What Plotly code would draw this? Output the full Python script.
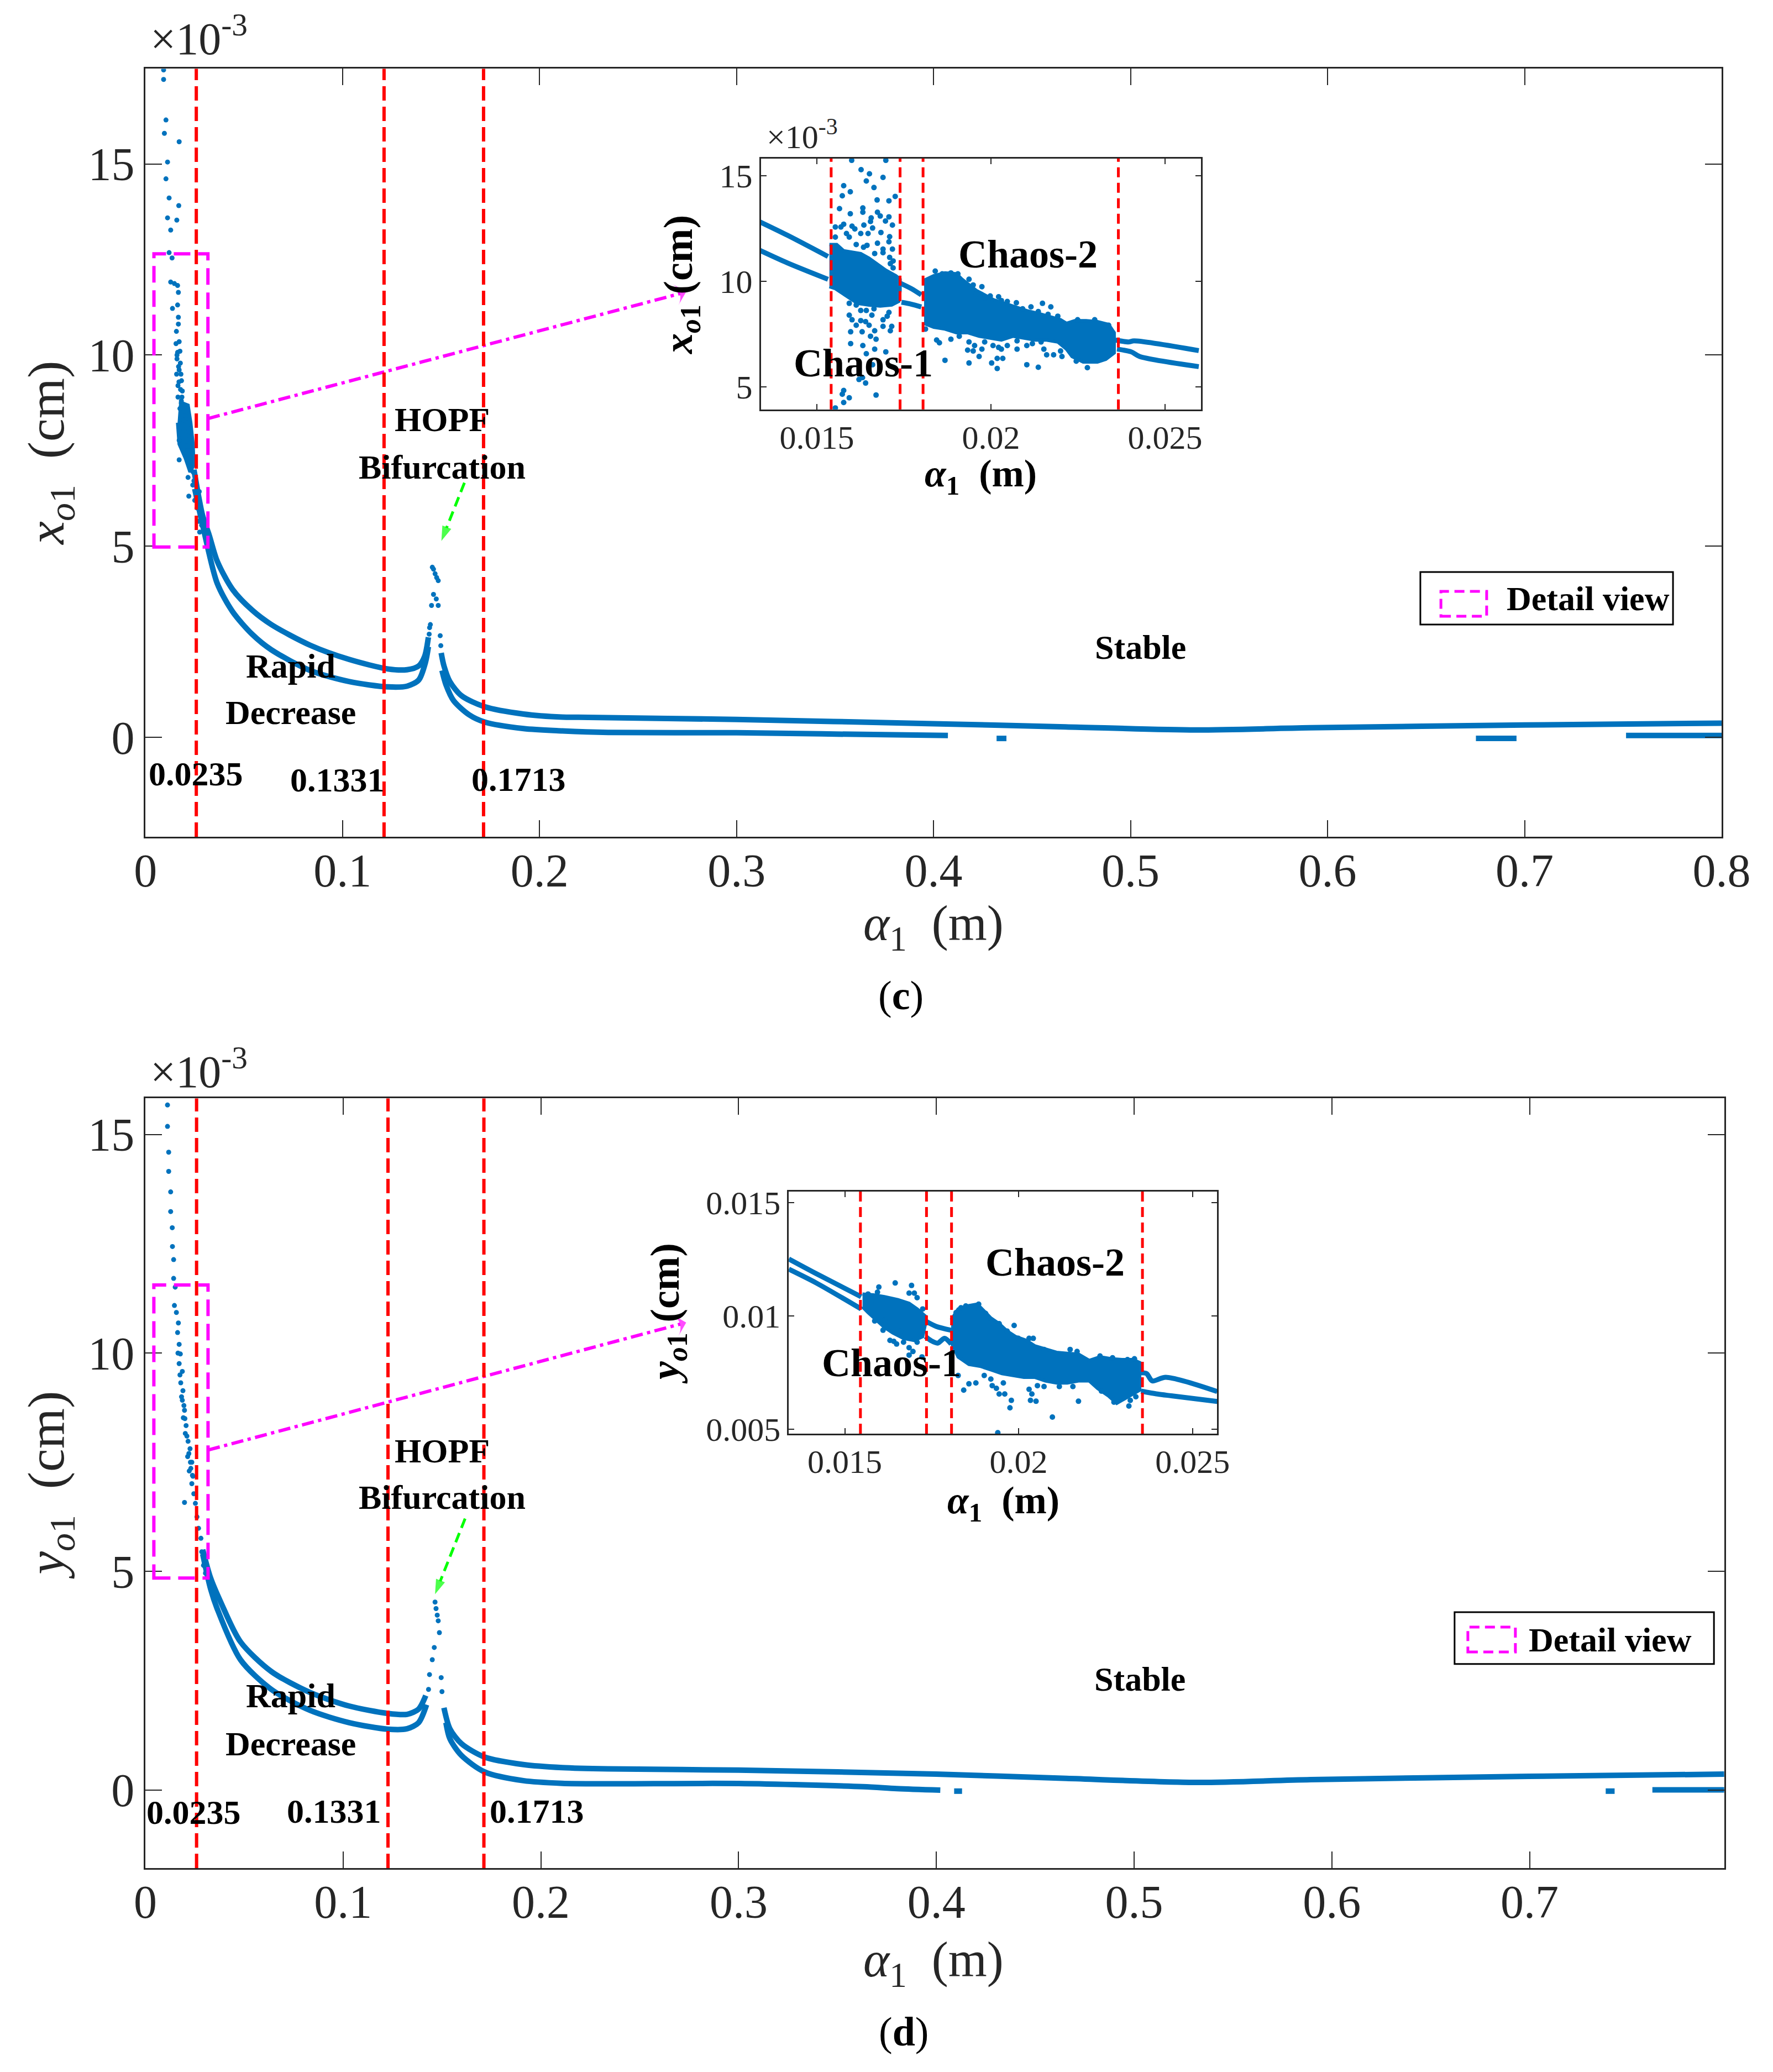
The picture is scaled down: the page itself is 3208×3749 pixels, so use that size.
import plotly.graph_objects as go

BLUE = "#0072BD"
FONT = "Liberation Serif"
AXC = "#262626"
# the page body adds an 8 px margin, so paper positions are nudged back by that much
DX = -8 / 3208
DY = 8 / 3749

# ---------------- panel (c): x_o1 (values in 1e-3 cm) ----------------
c_up_x = [0.0246, 0.0270, 0.0290, 0.0324, 0.0364, 0.0442, 0.0541, 0.0639, 0.0836, 0.1033, 0.1230, 0.1328, 0.1387, 0.1417, 0.1436]
c_up_y = [7.0, 6.3, 5.8, 5.28, 4.61, 3.87, 3.33, 2.95, 2.41, 2.04, 1.79, 1.77, 1.87, 2.12, 2.62]
c_lo_x = [0.0250, 0.0275, 0.0295, 0.0364, 0.0442, 0.0541, 0.0639, 0.0836, 0.1033, 0.1230, 0.1328, 0.1387, 0.1421, 0.1436]
c_lo_y = [6.5, 5.9, 5.44, 4.03, 3.29, 2.70, 2.29, 1.75, 1.46, 1.32, 1.34, 1.50, 1.96, 2.37]
c_peak_x = [0.1456, 0.1462, 0.1470, 0.1478, 0.1486, 0.1452, 0.1462, 0.1476, 0.1486, 0.1446, 0.1442, 0.1496, 0.1440, 0.1499]
c_peak_y = [4.45, 4.40, 4.28, 4.18, 4.10, 3.45, 3.74, 3.62, 3.45, 2.95, 2.87, 2.66, 2.70, 2.40]
c_post_up_x = [0.1501, 0.1515, 0.1545, 0.1604, 0.1722, 0.1919, 0.2116, 0.2198, 0.3, 0.4, 0.467, 0.533, 0.591, 0.7, 0.8]
c_post_up_y = [2.21, 1.87, 1.46, 1.09, 0.80, 0.61, 0.53, 0.525, 0.468, 0.357, 0.275, 0.193, 0.25, 0.323, 0.371]
c_post_lo_x = [0.1505, 0.1525, 0.1564, 0.1643, 0.1722, 0.1919, 0.2116, 0.2348, 0.3, 0.343, 0.4073]
c_post_lo_y = [1.75, 1.38, 0.96, 0.59, 0.40, 0.23, 0.17, 0.13, 0.12, 0.091, 0.048]
c_seg_x = [0.432, 0.437, None, 0.6753, 0.6959, None, 0.7515, 0.8]
c_seg_y = [-0.028, -0.028, None, -0.028, -0.028, None, 0.048, 0.048]
c_chaos_x = [0.0092, 0.0092, 0.0104, 0.0096, 0.0171, 0.0112, 0.0104, 0.0120, 0.0169, 0.0112, 0.0159, 0.0128,
             0.0120, 0.0135, 0.0128, 0.0147, 0.0163, 0.0167, 0.0137, 0.0163, 0.0167, 0.0167, 0.0157, 0.0171,
             0.0163, 0.0177, 0.0171, 0.0183, 0.0187, 0.0191, 0.0202, 0.0216, 0.0196, 0.0226, 0.0171, 0.0206,
             0.0222, 0.0236, 0.0171, 0.0226, 0.0242, 0.0216, 0.0246, 0.0220, 0.0273, 0.0269, 0.0275, 0.0285,
             0.0155, 0.0175, 0.0160, 0.0180, 0.0165, 0.0185, 0.0175, 0.0195, 0.0205, 0.0215, 0.0230, 0.0240,
             0.0250, 0.0262, 0.0160, 0.0168, 0.0158, 0.0170, 0.0178, 0.0165, 0.0182]
c_chaos_y = [17.46, 17.21, 16.15, 15.80, 15.58, 15.05, 14.61, 14.11, 13.91, 13.59, 13.53, 13.27,
             12.68, 12.54, 11.91, 11.87, 11.82, 11.64, 11.22, 11.31, 10.99, 10.81, 10.62, 10.35,
             10.07, 9.79, 9.61, 9.33, 9.06, 8.69, 8.41, 8.23, 8.04, 7.86, 7.77, 7.63,
             7.49, 7.30, 7.26, 7.12, 6.94, 6.80, 6.71, 6.31, 6.43, 5.65, 5.37, 5.55,
             10.3, 10.1, 9.9, 9.5, 9.2, 8.9, 8.6, 8.3, 7.9, 7.5, 7.0, 6.6,
             6.2, 6.0, 10.0, 9.7, 9.5, 9.3, 9.1, 8.9, 8.8]
c_core_x = [0.01709, 0.02162, 0.02299, 0.02417, 0.02456, 0.02260, 0.02024, 0.01709, 0.01630]
c_core_y = [8.78, 8.69, 8.23, 7.67, 7.12, 6.94, 7.30, 7.67, 8.23]
c_red_x = [0.0258, 0.1211, 0.1716]

# inset (c)
ic_up_x = [0.01334, 0.01415, 0.01532]
ic_up_y = [12.84, 12.19, 11.18]
ic_lo_x = [0.01334, 0.01415, 0.01532]
ic_lo_y = [11.49, 10.88, 10.10]
ic_mid_up_x = [0.01739, 0.01771, 0.01800]
ic_mid_up_y = [9.92, 9.66, 9.36]
ic_mid_lo_x = [0.01743, 0.01771, 0.01800]
ic_mid_lo_y = [9.01, 8.92, 8.79]
ic_post_up_x = [0.02358, 0.02395, 0.02411, 0.02597]
ic_post_up_y = [7.22, 7.13, 7.18, 6.72]
ic_post_lo_x = [0.02362, 0.02403, 0.02427, 0.02597]
ic_post_lo_y = [6.79, 6.66, 6.44, 5.96]
ic_core1_x = [0.01536, 0.01557, 0.01577, 0.01601, 0.01626, 0.01650, 0.01674, 0.01698, 0.01727, 0.01739,
              0.01739, 0.01735, 0.01715, 0.01682, 0.01650, 0.01617, 0.01593, 0.01577, 0.01553, 0.01536]
ic_core1_y = [11.75, 11.75, 11.45, 11.40, 11.32, 11.10, 10.79, 10.53, 10.27, 10.10,
              9.57, 9.05, 8.88, 8.83, 8.88, 8.96, 9.22, 9.40, 9.66, 9.75]
ic_core2_x = [0.01808, 0.01836, 0.01868, 0.01901, 0.01917, 0.01937, 0.01958, 0.01982, 0.02006, 0.02039, 0.02071,
              0.02103, 0.02136, 0.02168, 0.02200, 0.02217, 0.02241, 0.02273, 0.02306, 0.02338, 0.02354,
              0.02354, 0.02330, 0.02306, 0.02265, 0.02233, 0.02217, 0.02192, 0.02160, 0.02128, 0.02095,
              0.02063, 0.02030, 0.01998, 0.01966, 0.01933, 0.01901, 0.01868, 0.01836, 0.01808]
ic_core2_y = [10.05, 10.27, 10.40, 10.36, 10.10, 9.83, 9.57, 9.36, 9.14, 8.96, 8.79,
              8.61, 8.48, 8.35, 8.18, 8.01, 8.14, 8.14, 8.09, 7.96, 7.57,
              6.61, 6.31, 6.18, 6.18, 6.44, 6.79, 7.13, 7.22, 7.22, 7.31,
              7.40, 7.22, 7.31, 7.40, 7.57, 7.57, 7.74, 7.83, 8.01]
ic_dots_x = [0.01600, 0.01698, 0.01627, 0.01651, 0.01690, 0.01642, 0.01664, 0.01577, 0.01596, 0.01573, 0.01673,
             0.01707, 0.01725, 0.01565, 0.01632, 0.01632, 0.01596, 0.01674, 0.01682, 0.01707, 0.01697, 0.01717,
             0.01656, 0.01654, 0.01577, 0.01553, 0.01569, 0.01601, 0.01635, 0.01609, 0.01626, 0.01647, 0.01660,
             0.01684, 0.01585, 0.01593, 0.01709, 0.01553, 0.01707, 0.01674, 0.01644, 0.01613, 0.01634, 0.01690,
             0.01717, 0.01666, 0.01709, 0.01690, 0.01719, 0.01711, 0.01719,
             0.01593, 0.01613, 0.01626, 0.01642, 0.01664, 0.01593, 0.01601, 0.01626, 0.01640, 0.01658, 0.01690,
             0.01702, 0.01707, 0.01613, 0.01650, 0.01666, 0.01690, 0.01715, 0.01597, 0.01630, 0.01654, 0.01711,
             0.01670, 0.01597, 0.01632, 0.01666, 0.01698, 0.01642, 0.01660, 0.01631, 0.01621, 0.01640, 0.01577,
             0.01573, 0.01593, 0.01577, 0.01670, 0.01553,
             0.01840, 0.01860, 0.01885, 0.01905, 0.01937, 0.01949, 0.01974, 0.01958, 0.01982, 0.01998, 0.02022,
             0.02030, 0.02047, 0.02073, 0.02091, 0.02115, 0.02136, 0.02148, 0.02172, 0.02164, 0.02192,
             0.01812, 0.01844, 0.01852, 0.01885, 0.01909, 0.01937, 0.01933, 0.01949, 0.01953, 0.01974, 0.01966,
             0.01982, 0.02006, 0.02022, 0.02030, 0.02047, 0.02075, 0.02075, 0.02103, 0.02119, 0.02144, 0.02152,
             0.02160, 0.02180, 0.02200, 0.02204, 0.01868, 0.01937, 0.02002, 0.02018, 0.02034, 0.02018, 0.02103,
             0.02136, 0.02245, 0.02277, 0.02249, 0.02298, 0.02338]
ic_dots_y = [15.74, 15.74, 15.30, 15.10, 14.93, 14.76, 14.45, 14.54, 14.25, 14.06, 13.86,
             13.82, 14.03, 13.45, 13.48, 13.28, 13.21, 13.28, 13.10, 13.06, 12.86, 12.67,
             13.01, 12.84, 12.71, 12.58, 12.58, 12.62, 12.67, 12.49, 12.27, 12.27, 12.53,
             12.32, 12.27, 12.10, 12.12, 12.10, 11.88, 11.81, 11.71, 11.75, 11.62, 11.53,
             11.53, 11.32, 11.14, 11.36, 10.97, 10.84, 10.64,
             8.96, 8.88, 8.62, 8.62, 8.70, 8.40, 8.18, 8.14, 8.09, 8.40, 8.18,
             8.35, 8.53, 7.92, 7.92, 7.66, 7.87, 7.87, 7.61, 7.61, 7.40, 7.66,
             7.26, 7.05, 6.96, 6.79, 6.66, 6.57, 6.05, 5.44, 5.35, 5.18, 4.83,
             4.65, 4.48, 4.26, 4.61, 4.00,
             10.49, 10.36, 10.40, 10.36, 10.10, 9.83, 9.75, 9.40, 9.22, 9.31, 9.27,
             9.09, 9.05, 8.99, 8.70, 8.79, 8.57, 8.96, 8.79, 8.44, 8.35,
             7.74, 7.22, 7.09, 7.26, 7.40, 7.13, 6.74, 6.70, 6.96, 6.79, 6.44,
             7.13, 6.96, 6.87, 6.79, 6.96, 7.18, 6.79, 6.96, 7.05, 7.13, 6.79,
             6.52, 6.52, 6.70, 6.44, 6.26, 6.13, 6.13, 6.35, 6.35, 5.87, 6.05,
             5.93, 6.22, 5.91, 8.18, 8.18, 7.92]
ic_red_x = [0.01541, 0.01739, 0.01805, 0.02366]

# ---------------- panel (d): y_o1 (values in 1e-3 cm) ----------------
d_up_x = [0.0290, 0.0330, 0.0383, 0.0481, 0.0637, 0.0833, 0.1030, 0.1226, 0.1324, 0.1382, 0.1418]
d_up_y = [5.5, 4.85, 4.28, 3.39, 2.71, 2.23, 1.92, 1.75, 1.73, 1.85, 2.16]
d_lo_x = [0.0290, 0.0330, 0.0363, 0.0481, 0.0637, 0.0833, 0.1030, 0.1226, 0.1324, 0.1382, 0.1422]
d_lo_y = [5.4, 4.6, 4.15, 2.98, 2.30, 1.82, 1.54, 1.39, 1.40, 1.54, 1.95]
d_peak_x = [0.1465, 0.1470, 0.1476, 0.1481, 0.1487, 0.1461, 0.1451, 0.1437, 0.1496, 0.1432, 0.1500]
d_peak_y = [4.30, 4.15, 4.00, 3.87, 3.60, 3.26, 2.98, 2.64, 2.57, 2.30, 2.25]
d_post_up_x = [0.1510, 0.1540, 0.1598, 0.1716, 0.1912, 0.2108, 0.2339, 0.3, 0.4, 0.4658, 0.5325, 0.5893, 0.6996, 0.7984]
d_post_up_y = [1.88, 1.40, 1.06, 0.75, 0.58, 0.51, 0.48, 0.452, 0.36, 0.262, 0.17, 0.234, 0.309, 0.36]
d_post_lo_x = [0.1520, 0.1540, 0.1598, 0.1716, 0.1912, 0.2108, 0.2339, 0.3, 0.363, 0.380, 0.402]
d_post_lo_y = [1.54, 1.17, 0.79, 0.41, 0.21, 0.15, 0.14, 0.145, 0.072, 0.03, -0.006]
d_seg_x = [0.409, 0.413, None, 0.7385, 0.743, None, 0.7621, 0.7984]
d_seg_y = [-0.029, -0.029, None, -0.029, -0.029, None, 0.0, 0.0]
d_chaos_x = [0.0112, 0.0112, 0.0118, 0.0118, 0.0128, 0.0128, 0.0136, 0.0137, 0.0143, 0.0143, 0.0151, 0.0147,
             0.0157, 0.0167, 0.0163, 0.0171, 0.0177, 0.0171, 0.0187, 0.0179, 0.0190, 0.0187, 0.0198, 0.0192,
             0.0206, 0.0202, 0.0216, 0.0226, 0.0214, 0.0235, 0.0198, 0.0230, 0.0241, 0.0235, 0.0245, 0.0253,
             0.0261, 0.0269, 0.0281, 0.0285, 0.0294, 0.0304, 0.0324,
             0.0165, 0.0175, 0.0183, 0.0195, 0.0200, 0.0210, 0.0220, 0.0228, 0.0238, 0.0222]
d_chaos_y = [15.68, 15.19, 14.60, 14.16, 13.69, 13.24, 12.87, 12.44, 12.14, 11.71, 11.51, 11.09,
             10.93, 10.69, 10.47, 10.20, 9.98, 9.76, 9.58, 9.32, 9.14, 8.92, 8.69, 8.52,
             8.34, 8.16, 7.98, 7.81, 7.63, 7.50, 6.58, 7.36, 7.18, 7.01, 6.78, 6.56,
             6.25, 5.99, 5.76, 5.45, 5.14, 4.96, 4.79,
             10.0, 9.5, 9.0, 8.8, 8.5, 8.1, 7.7, 7.5, 7.2, 7.3]
d_red_x = [0.0259, 0.1227, 0.1712]

# inset (d)
id_up_x = [0.01339, 0.01418, 0.01547]
id_up_y = [12.52, 11.87, 10.85]
id_lo_x = [0.01339, 0.01418, 0.01547]
id_lo_y = [12.07, 11.46, 10.31]
id_mid_up_x = [0.01732, 0.01763, 0.01806]
id_mid_up_y = [9.78, 9.54, 9.37]
id_mid_lo_x = [0.01732, 0.01747, 0.01767, 0.01787, 0.01806]
id_mid_lo_y = [9.09, 8.92, 8.80, 9.01, 8.76]
id_post_up_x = [0.02352, 0.02368, 0.02384, 0.02423, 0.02571]
id_post_up_y = [7.49, 7.45, 7.13, 7.29, 6.66]
id_post_lo_x = [0.02352, 0.02399, 0.02439, 0.02571]
id_post_lo_y = [6.68, 6.55, 6.47, 6.22]
id_core1_x = [0.01551, 0.01583, 0.01614, 0.01653, 0.01685, 0.01708, 0.01732, 0.01732,
              0.01724, 0.01700, 0.01669, 0.01638, 0.01614, 0.01590, 0.01567, 0.01551]
id_core1_y = [10.97, 10.93, 10.85, 10.72, 10.56, 10.31, 9.99, 9.66,
              9.09, 8.92, 9.01, 9.25, 9.50, 9.82, 10.15, 10.40]
id_core2_x = [0.01806, 0.01826, 0.01850, 0.01881, 0.01905, 0.01920, 0.01944, 0.01967, 0.01991, 0.02022, 0.02046,
              0.02077, 0.02109, 0.02140, 0.02172, 0.02203, 0.02234, 0.02266, 0.02297, 0.02329, 0.02348,
              0.02348, 0.02329, 0.02305, 0.02282, 0.02258, 0.02227, 0.02203, 0.02172, 0.02140, 0.02109,
              0.02077, 0.02046, 0.02015, 0.01983, 0.01952, 0.01920, 0.01889, 0.01857, 0.01826, 0.01806]
id_core2_y = [9.82, 10.31, 10.44, 10.52, 10.15, 9.91, 9.66, 9.33, 9.09, 8.92, 8.68,
              8.52, 8.39, 8.35, 8.31, 8.03, 8.19, 8.11, 8.07, 8.07, 7.94,
              6.72, 6.55, 6.31, 6.14, 6.47, 6.80, 7.13, 7.13, 7.04, 7.04,
              7.13, 7.29, 7.29, 7.37, 7.45, 7.62, 7.78, 7.86, 8.19, 8.84]
id_dots_x = [0.01645, 0.01692, 0.01598, 0.01594, 0.01685, 0.01708, 0.01724, 0.01586, 0.01610, 0.01630, 0.01649,
             0.01641, 0.01669, 0.01685, 0.01696, 0.01708, 0.01685, 0.01722, 0.01661, 0.01614, 0.01575, 0.01700,
             0.01567,
             0.01834, 0.01848, 0.01873, 0.01885, 0.01820, 0.01905, 0.01920, 0.01944, 0.01987, 0.01967, 0.01999,
             0.02030, 0.02042, 0.02073, 0.02148, 0.02168, 0.02234, 0.02270, 0.02313, 0.02333,
             0.01826, 0.01842, 0.01857, 0.01877, 0.01901, 0.01920, 0.01924, 0.01936, 0.01944, 0.01960, 0.01956,
             0.01979, 0.01975, 0.02030, 0.02038, 0.02034, 0.02050, 0.02054, 0.02073, 0.02097, 0.02117, 0.02156,
             0.02172, 0.02238, 0.02274, 0.02282, 0.02317, 0.02321, 0.02337, 0.01940]
id_dots_y = [11.46, 11.35, 11.28, 11.05, 11.01, 10.81, 10.31, 9.78, 9.37, 8.92, 8.76,
             8.88, 8.84, 8.60, 8.43, 8.84, 8.27, 8.19, 9.33, 9.82, 10.64, 11.01,
             10.97,
             10.36, 10.44, 10.31, 10.52, 10.15, 10.11, 9.70, 9.66, 9.58, 9.33, 9.01,
             9.01, 9.01, 8.52, 8.52, 8.43, 8.23, 8.15, 8.07, 8.11,
             7.37, 6.72, 7.00, 7.04, 7.37, 7.21, 6.92, 6.80, 6.55, 6.55, 7.04,
             6.27, 5.94, 6.76, 6.55, 6.27, 6.23, 6.92, 6.88, 5.53, 6.88, 6.88,
             6.23, 6.68, 6.19, 6.39, 6.02, 6.27, 6.43, 4.84]
id_red_x = [0.01545, 0.01735, 0.01807, 0.02356]

fig = go.Figure()


def add_line(x, y, xa, ya, width=10):
    fig.add_trace(go.Scatter(x=x, y=y, mode="lines", line=dict(color=BLUE, width=width, shape="spline", smoothing=0.8),
                             xaxis=xa, yaxis=ya, showlegend=False, hoverinfo="skip"))


def add_dots(x, y, xa, ya, size=9):
    fig.add_trace(go.Scatter(x=x, y=y, mode="markers", marker=dict(color=BLUE, size=size, line=dict(width=0)),
                             xaxis=xa, yaxis=ya, showlegend=False, hoverinfo="skip"))


def add_cloud(x, y, xa, ya):
    fig.add_trace(go.Scatter(x=x, y=y, mode="lines", fill="toself", fillcolor=BLUE,
                             line=dict(color=BLUE, width=6), xaxis=xa, yaxis=ya,
                             showlegend=False, hoverinfo="skip"))


# main (c)
add_cloud(c_core_x, c_core_y, "x", "y")
add_dots(c_chaos_x, c_chaos_y, "x", "y")
add_line(c_up_x, c_up_y, "x", "y")
add_line(c_lo_x, c_lo_y, "x", "y")
add_dots(c_peak_x, c_peak_y, "x", "y")
add_line(c_post_up_x, c_post_up_y, "x", "y")
add_line(c_post_lo_x, c_post_lo_y, "x", "y")
add_line(c_seg_x, c_seg_y, "x", "y")

# main (d)
add_dots(d_chaos_x, d_chaos_y, "x2", "y2")
add_line(d_up_x, d_up_y, "x2", "y2")
add_line(d_lo_x, d_lo_y, "x2", "y2")
add_dots(d_peak_x, d_peak_y, "x2", "y2")
add_line(d_post_up_x, d_post_up_y, "x2", "y2")
add_line(d_post_lo_x, d_post_lo_y, "x2", "y2")
add_line(d_seg_x, d_seg_y, "x2", "y2")

# insets
for xa, ya, cores, lines, dx, dy in [
    ("x3", "y3", [(ic_core1_x, ic_core1_y), (ic_core2_x, ic_core2_y)],
     [(ic_up_x, ic_up_y), (ic_lo_x, ic_lo_y), (ic_mid_up_x, ic_mid_up_y), (ic_mid_lo_x, ic_mid_lo_y),
      (ic_post_up_x, ic_post_up_y), (ic_post_lo_x, ic_post_lo_y)], ic_dots_x, ic_dots_y),
    ("x4", "y4", [(id_core1_x, id_core1_y), (id_core2_x, id_core2_y)],
     [(id_up_x, id_up_y), (id_lo_x, id_lo_y), (id_mid_up_x, id_mid_up_y), (id_mid_lo_x, id_mid_lo_y),
      (id_post_up_x, id_post_up_y), (id_post_lo_x, id_post_lo_y)], id_dots_x, id_dots_y)]:
    for cx, cy in cores:
        add_cloud(cx, cy, xa, ya)
    for lx, ly in lines:
        add_line(lx, ly, xa, ya, width=9)
    add_dots(dx, dy, xa, ya, size=10)

# zoom-box arrows (magenta) and HOPF arrows (green)
for xa, ya, ax, ay in [("x", "y", [0.0317, 0.2744], [8.34, 11.65]), ("x2", "y2", [0.0317, 0.2735], [7.78, 10.70])]:
    fig.add_trace(go.Scatter(x=ax, y=ay, mode="lines+markers", xaxis=xa, yaxis=ya,
                             line=dict(color="#FF00FF", width=6, dash="22px,8px,6px,8px"),
                             marker=dict(symbol=["circle", "arrow-wide"], size=[0, 28], color="#FF00FF",
                                         angleref="previous", line=dict(width=0)),
                             showlegend=False, hoverinfo="skip"))
for xa, ya, gx, gy in [("x", "y", [0.1619, 0.1502], [6.66, 5.14]), ("x2", "y2", [0.1617, 0.1465], [6.21, 4.48])]:
    fig.add_trace(go.Scatter(x=gx, y=gy, mode="lines+markers", xaxis=xa, yaxis=ya,
                             line=dict(color="#00FF00", width=5, dash="18px,10px"),
                             marker=dict(symbol=["circle", "arrow"], size=[0, 28], color="#00FF00",
                                         angleref="previous", line=dict(width=0)),
                             showlegend=False, hoverinfo="skip"))

shapes = []
for xr, vals in [("x", c_red_x), ("x2", d_red_x)]:
    for v in vals:
        shapes.append(dict(type="line", xref=xr, yref=xr.replace("x", "y") + " domain", x0=v, x1=v, y0=0, y1=1,
                           line=dict(color="#FF0000", width=6, dash="26px,11px")))
for xr, vals in [("x3", ic_red_x), ("x4", id_red_x)]:
    for v in vals:
        shapes.append(dict(type="line", xref=xr, yref=xr.replace("x", "y") + " domain", x0=v, x1=v, y0=0, y1=1,
                           line=dict(color="#FF0000", width=5, dash="18px,10px")))
# detail-view boxes
shapes.append(dict(type="rect", xref="x", yref="y", x0=0.0043, x1=0.0317, y0=4.98, y1=12.65,
                   line=dict(color="#FF00FF", width=6, dash="30px,14px")))
shapes.append(dict(type="rect", xref="x2", yref="y2", x0=0.0043, x1=0.0317, y0=4.85, y1=11.56,
                   line=dict(color="#FF00FF", width=6, dash="30px,14px")))
# legend boxes
for bx, sx in [((0.8011, 0.6986, 0.9436, 0.7239), (0.8127, 0.7026, 0.8385, 0.7146)),
               ((0.8204, 0.1969, 0.9667, 0.2219), (0.8279, 0.2027, 0.8547, 0.2147))]:
    shapes.append(dict(type="rect", xref="paper", yref="paper", x0=bx[0] + DX, y0=bx[1] + DY,
                       x1=bx[2] + DX, y1=bx[3] + DY, line=dict(color="black", width=3), fillcolor="white"))
    shapes.append(dict(type="rect", xref="paper", yref="paper", x0=sx[0] + DX, y0=sx[1] + DY,
                       x1=sx[2] + DX, y1=sx[3] + DY, line=dict(color="#FF00FF", width=5, dash="18px,10px")))

ann = []


def txt(s, x, y, xr="paper", yr="paper", size=62, bold=True, angle=0, xanchor="center", yanchor="middle", color="black"):
    if xr == "paper":
        x, y = x + DX, y + DY
    ann.append(dict(text=s, x=x, y=y, xref=xr, yref=yr, showarrow=False,
                    textangle=angle, xanchor=xanchor, yanchor=yanchor,
                    font=dict(family=FONT, size=size, color=color, weight="bold" if bold else "normal")))


# panel (c) texts
txt("HOPF", 0.1507, 8.32, "x", "y")
txt("Bifurcation", 0.1507, 7.07, "x", "y")
txt("Rapid", 0.0738, 1.87, "x", "y")
txt("Decrease", 0.0738, 0.65, "x", "y")
txt("Stable", 0.505, 2.36, "x", "y")
txt("0.0235", 0.0256, -0.945, "x", "y")
txt("0.1331", 0.0974, -1.11, "x", "y")
txt("0.1713", 0.1893, -1.10, "x", "y")
txt("Detail view", 0.8491, 0.7112, xanchor="left")
txt("Chaos-2", 0.02106, 11.29, "x3", "y3", size=72)
txt("Chaos-1", 0.01633, 6.13, "x3", "y3", size=72)
# panel (d) texts
txt("HOPF", 0.1501, 7.76, "x2", "y2")
txt("Bifurcation", 0.1501, 6.70, "x2", "y2")
txt("Rapid", 0.0736, 2.16, "x2", "y2")
txt("Decrease", 0.0736, 1.06, "x2", "y2")
txt("Stable", 0.503, 2.54, "x2", "y2")
txt("0.0235", 0.0245, -0.51, "x2", "y2")
txt("0.1331", 0.0955, -0.49, "x2", "y2")
txt("0.1713", 0.198, -0.49, "x2", "y2")
txt("Detail view", 0.8616, 0.2087, xanchor="left")
txt("Chaos-2", 0.02105, 12.38, "x4", "y4", size=72)
txt("Chaos-1", 0.01635, 7.92, "x4", "y4", size=72)

# axis titles, exponents, captions
NB = "\u00a0"
txt("<i>α</i><sub>1</sub>" + NB * 2 + "(m)", 0.5265, 0.5525, size=90, bold=False, color=AXC)
txt("<i>x</i><sub><i>o</i>1</sub>" + NB * 2 + "(cm)", 0.028, 0.7813, size=94, bold=False, angle=-90, color=AXC)
txt("<i>α</i><sub>1</sub>" + NB * 2 + "(m)", 0.5265, 0.0525, size=90, bold=False, color=AXC)
txt("<i>y</i><sub><i>o</i>1</sub>" + NB * 2 + "(cm)", 0.028, 0.2833, size=94, bold=False, angle=-90, color=AXC)
txt("<i>α</i><sub>1</sub>" + NB * 2 + "(m)", 0.553, 0.7700, size=70)
txt("<i>x</i><sub><i>o</i>1</sub>" + NB + "(cm)", 0.384, 0.8626, size=74, angle=-90)
txt("<i>α</i><sub>1</sub>" + NB * 2 + "(m)", 0.5658, 0.2745, size=70)
txt("<i>y</i><sub><i>o</i>1</sub>" + NB + "(cm)", 0.3765, 0.3662, size=74, angle=-90)
txt("×10<sup>-3</sup>", 0.0842, 0.9685, size=82, bold=False, xanchor="left", yanchor="bottom", color=AXC)
txt("×10<sup>-3</sup>", 0.0842, 0.4700, size=82, bold=False, xanchor="left", yanchor="bottom", color=AXC)
txt("×10<sup>-3</sup>", 0.4317, 0.9245, size=60, bold=False, xanchor="left", yanchor="bottom", color=AXC)
txt("(<b>c</b>)", 0.5081, 0.5195, size=74, bold=False)
txt("(<b>d</b>)", 0.5097, 0.0195, size=74, bold=False)


def ax(domain, rng, tickvals, ticktext, anchor, size=84, ticklen=30, standoff=0, shift=0.0):
    return dict(domain=[domain[0] + shift, domain[1] + shift], range=rng, tickvals=tickvals, ticktext=ticktext,
                anchor=anchor, showline=True, linecolor=AXC, linewidth=3, mirror="allticks", ticks="inside",
                ticklen=ticklen, tickwidth=2, tickcolor=AXC, showgrid=False, zeroline=False,
                automargin=False, ticklabelstandoff=standoff, tickfont=dict(family=FONT, size=size, color=AXC))


xt = [0, 0.1, 0.2, 0.3, 0.4, 0.5, 0.6, 0.7, 0.8]
xl = ["0", "0.1", "0.2", "0.3", "0.4", "0.5", "0.6", "0.7", "0.8"]
fig.update_layout(
    width=3208, height=3749, margin=dict(l=0, r=0, t=0, b=0, pad=0, autoexpand=False),
    paper_bgcolor="white", plot_bgcolor="white", showlegend=False,
    xaxis=ax([0.08205, 0.97101], [0, 0.8], xt, xl, "y", standoff=-14, shift=DX),
    yaxis=ax([0.59616, 0.96682], [-2.6, 17.49], [0, 5, 10, 15], ["0", "5", "10", "15"], "x", shift=DY),
    xaxis2=ax([0.08198, 0.97257], [0, 0.7985], xt[:-1], xl[:-1], "y2", standoff=-14, shift=DX),
    yaxis2=ax([0.09843, 0.46986], [-1.79, 15.83], [0, 5, 10, 15], ["0", "5", "10", "15"], "x2", shift=DY),
    xaxis3=ax([0.42912, 0.67731], [0.01339, 0.02603], [0.015, 0.02, 0.025], ["0.015", "0.02", "0.025"], "y3", 60, 10,
              standoff=-4, shift=DX),
    yaxis3=ax([0.8024, 0.92353], [3.93, 15.83], [5, 10, 15], ["5", "10", "15"], "x3", 60, 10, shift=DY),
    xaxis4=ax([0.44489, 0.68653], [0.01339, 0.02571], [0.015, 0.02, 0.025], ["0.015", "0.02", "0.025"], "y4", 60, 10,
              standoff=-4, shift=DX),
    yaxis4=ax([0.30811, 0.42502], [4.8, 15.51], [5, 10, 15], ["0.005", "0.01", "0.015"], "x4", 60, 10, shift=DY),
    shapes=shapes, annotations=ann,
)

fig.write_html("out.html")
